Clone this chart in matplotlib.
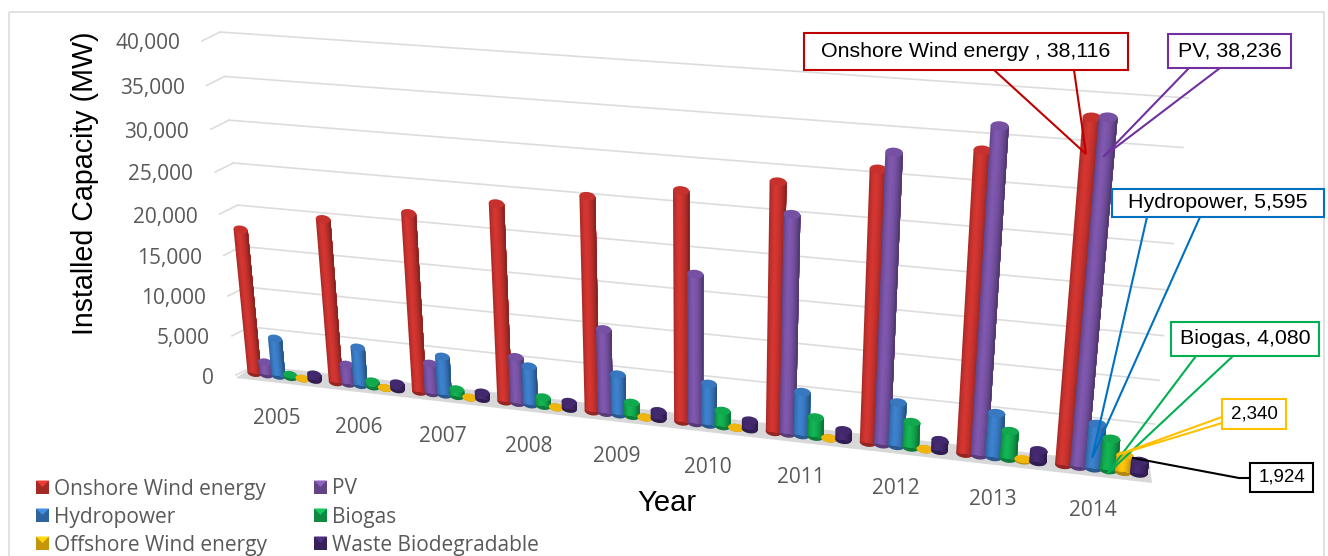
import matplotlib

matplotlib.use("Agg")
import matplotlib.pyplot as plt
import numpy as np
from matplotlib.patches import Ellipse, Polygon, Rectangle
from matplotlib.transforms import Transform

years = ["2005", "2006", "2007", "2008", "2009", "2010", "2011", "2012", "2013", "2014"]
onshore = [18250, 20400, 22000, 24000, 25700, 27200, 29000, 31200, 34000, 38116]
pv = [2050, 2900, 4170, 6120, 10560, 18000, 25600, 33100, 36600, 38236]
hydro = [5200, 5200, 5200, 5150, 5340, 5400, 5620, 5600, 5590, 5595]
biogas = [800, 1150, 1350, 1550, 2100, 2350, 2800, 3500, 3700, 4080]
offshore = [0, 0, 0, 0, 35, 80, 190, 270, 620, 2340]
waste = [1200, 1250, 1300, 1350, 1450, 1550, 1650, 1750, 1850, 1924]
y_ticks = [0, 5000, 10000, 15000, 20000, 25000, 30000, 35000, 40000]

series = [
    ("Onshore Wind energy", onshore, "#cc332f"),
    ("PV", pv, "#7a54a8"),
    ("Hydropower", hydro, "#3a7cc6"),
    ("Biogas", biogas, "#12ad50"),
    ("Offshore Wind energy", offshore, "#f8bc0c"),
    ("Waste Biodegradable", waste, "#44296f"),
]

GREY = "#595959"
ARIAL = "Liberation Sans"
BODY = "Open Sans"


class PlaneTransform(Transform):
    """Perspective map from (category, value) to pixel positions."""

    input_dims = 2
    output_dims = 2

    def __init__(self, bl, br, tr, tl, xmax=10.0, vmax=40000.0):
        super().__init__()
        src = [(0, 0), (xmax, 0), (xmax, vmax), (0, vmax)]
        rows, rhs = [], []
        for (x, y), (u, v) in zip(src, [bl, br, tr, tl]):
            rows.append([x, y, 1, 0, 0, 0, -u * x, -u * y])
            rows.append([0, 0, 0, x, y, 1, -v * x, -v * y])
            rhs += [u, v]
        self.h = np.append(np.linalg.solve(np.array(rows, float), np.array(rhs, float)), 1).reshape(3, 3)

    def transform_non_affine(self, values):
        pts = np.column_stack([values, np.ones(len(values))]) @ self.h.T
        return pts[:, :2] / pts[:, 2:]


fig = plt.figure(figsize=(13.28, 5.56), dpi=100)
ax = fig.add_axes([0, 0, 1, 1])
ax.set_xlim(0, 1328)
ax.set_ylim(556, 0)
ax.axis("off")
ax.autoscale(False)

ax.add_patch(Rectangle((9, 12), 1315, 560, fill=False, ec="#d9d9d9", lw=1.1))

wall = PlaneTransform((254, 366), (1150, 467), (1188, 98), (220, 32))
front = PlaneTransform((244, 372), (1152, 475), (1190, 100), (211, 36))
wall_tr = wall + ax.transData
front_tr = front + ax.transData

# back wall grid with the little stubs on the left side
for v in y_ticks:
    ax.plot([0, 10], [v, v], color="#dcdcdc", lw=1.2, transform=wall_tr, zorder=1)
    px, py = wall.transform(np.array([[0.0, v]]))[0]
    ax.plot([px, px - 18], [py, py + 9], color="#dcdcdc", lw=1.2, zorder=1)
    ax.annotate(f"{v:,}", xy=(0, v), xycoords=wall_tr, xytext=(-40 * 0.72, -12 * 0.72),
                textcoords="offset points", ha="right", va="center",
                family=BODY, fontsize=15, color=GREY)

# floor
ax.add_patch(Polygon([(236, 378), (254, 366), (1150, 467), (1152, 483)], fc="#d8d8d8", ec="none", zorder=1.5))

# bars: cylinders built out of shaded strips, each one painted over the last
shades = [0.84, 0.92, 0.98, 1.03, 1.05, 1.03, 1.0, 0.96, 0.9, 0.84, 0.76, 0.66]
slot = 1 / 6.75
margin = 0.375 * slot
cap = 480
z = 2.0
for i in range(len(years)):
    for j, (name, values, color) in enumerate(series):
        rgb = np.array(matplotlib.colors.to_rgb(color))
        x = i + margin + (j + 0.5) * slot
        v = values[i]
        w = slot * 1.16
        top = max(v - cap, 0)
        ax.add_patch(Ellipse((x, 0), w, 2 * cap, fc=rgb * 0.72, ec="none", transform=front_tr, zorder=z))
        strip = w / len(shades)
        for k, s in enumerate(shades):
            ax.bar(x - w / 2 + k * strip, top, w - k * strip, align="edge",
                   color=np.clip(rgb * s, 0, 1), linewidth=0, transform=front_tr, zorder=z + 0.1)
        ax.add_patch(Ellipse((x, top), w, 2 * cap, fc=rgb * 0.97, ec="none",
                             transform=front_tr, zorder=z + 0.2))
        z += 0.3

# year labels below each group
for i, year in enumerate(years):
    ax.annotate(year, xy=(i + 0.5, 0), xycoords=front_tr, xytext=(-8 * 0.72, -41.5 * 0.72),
                textcoords="offset points", ha="center", va="center",
                family=BODY, fontsize=15, color=GREY)

ax.text(85, 183, "Installed Capacity (MW)", rotation=90, ha="center", va="center",
        family=ARIAL, fontsize=20.6, color="black")
ax.text(667, 503, "Year", ha="center", va="center", family=ARIAL, fontsize=21, color="black")

# legend
legend_rows = [(36, 487), (314, 487), (36, 515), (314, 515), (36, 543), (314, 543)]
for (lx, ly), (name, values, color) in zip(legend_rows, series):
    rgb = np.array(matplotlib.colors.to_rgb(color))
    ax.add_patch(Rectangle((lx, ly - 6.5), 13, 13, fc=rgb * 0.8, ec="none", zorder=5))
    ax.add_patch(Polygon([(lx, ly - 6.5), (lx + 13, ly - 6.5), (lx + 6.5, ly)],
                         fc=np.clip(rgb * 1.15, 0, 1), ec="none", zorder=5.1))
    ax.text(lx + 18, ly + 2, name, ha="left", va="center", family=BODY, fontsize=15, color=GREY)

# callouts
callouts = [
    ("Onshore Wind energy , 38,116", (804, 33, 1128, 70), [(994, 70), (1086, 154), (1074, 70)], "#c00000", 15.4),
    ("PV, 38,236", (1168, 34, 1291, 68), [(1189, 68), (1103, 157), (1220, 68)], "#7030a0", 15.4),
    ("Hydropower, 5,595", (1112, 189, 1324, 217), [(1147, 217), (1092, 458), (1200, 217)], "#0070c0", 15.4),
    ("Biogas, 4,080", (1171, 322, 1319, 356), [(1196, 356), (1107, 474), (1233, 356)], "#00b050", 15.4),
    ("2,340", (1222, 399, 1286, 429), [(1222, 417), (1117, 455), (1222, 423)], "#ffc000", 13.5),
]
for text, (x0, y0, x1, y1), wedge, color, size in callouts:
    ax.add_patch(Polygon(wedge, closed=False, fc="none", ec=color, lw=1.5, zorder=20))
    ax.add_patch(Rectangle((x0, y0), x1 - x0, y1 - y0, fc="white", ec=color, lw=1.5, zorder=21))
    ax.text((x0 + x1) / 2, (y0 + y1) / 2, text, ha="center", va="center", family=ARIAL,
            fontsize=size, color="black", zorder=22)

ax.plot([1133, 1239, 1250], [458, 478, 478], color="black", lw=1.5, zorder=20)
ax.add_patch(Rectangle((1250, 463), 63, 29, fc="white", ec="black", lw=1.5, zorder=21))
ax.text(1281.5, 477.5, "1,924", ha="center", va="center", family=ARIAL, fontsize=13.5, color="black", zorder=22)

fig.savefig("out.png", dpi=100)
